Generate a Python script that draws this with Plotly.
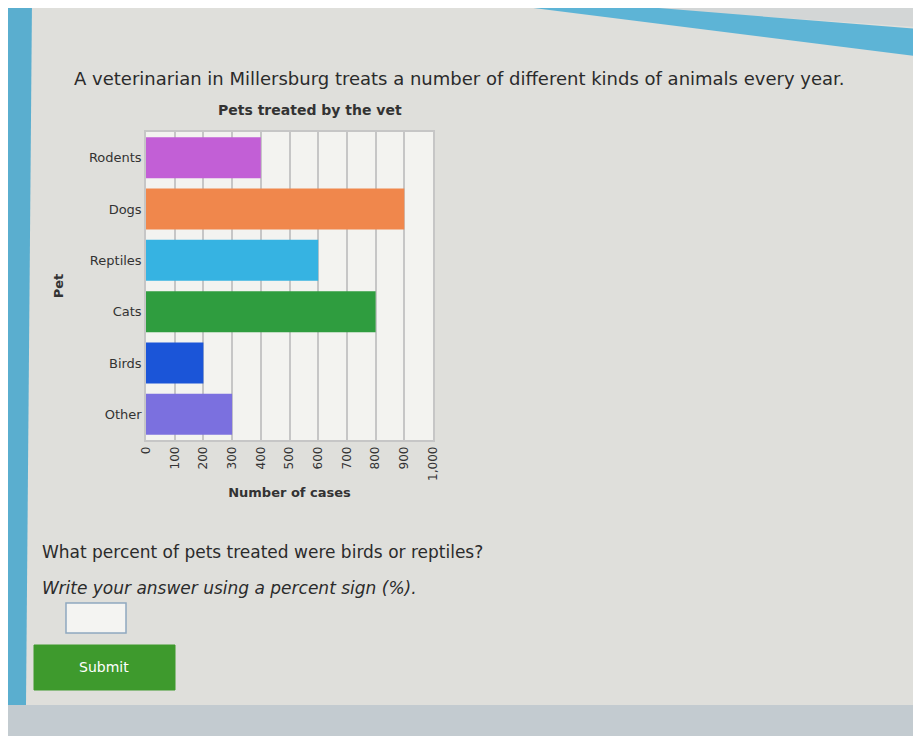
import plotly.graph_objects as go

pets = ["Rodents", "Dogs", "Reptiles", "Cats", "Birds", "Other"]
cases = [400, 900, 600, 800, 200, 300]
colors = ["#c25fd6", "#f0874c", "#36b3e2", "#2f9d3f", "#1b55d8", "#7b70df"]
x_ticks = [0, 100, 200, 300, 400, 500, 600, 700, 800, 900, 1000]

W, H = 921, 736
OFF = 8  # page offset of the figure
L, R, T, B = 146 - OFF, 433 - OFF, 132 - OFF, 440 - OFF

fig = go.Figure(go.Bar(
    x=cases, y=pets, orientation="h",
    marker=dict(color=colors, line=dict(width=0)),
    hoverinfo="x+y",
))

fig.update_layout(
    width=W, height=H,
    margin=dict(l=L, r=W - R, t=T, b=H - B),
    paper_bgcolor="#dfdfdb",
    plot_bgcolor="#f3f3f0",
    bargap=0.2,
    showlegend=False,
    font=dict(family="DejaVu Sans", color="#333333"),
    xaxis=dict(range=[0, 1000], tickvals=x_ticks, tickformat=",", tickangle=-90,
               showgrid=True, gridcolor="#c6c6c6", gridwidth=1.5,
               showline=True, linecolor="#c6c6c6", linewidth=1.5, mirror=True,
               zeroline=False, tickfont=dict(size=12, color="#333333"),
               title=dict(text="<b>Number of cases</b>", font=dict(size=13, color="#333333"), standoff=8)),
    yaxis=dict(autorange="reversed", showgrid=False,
               showline=True, linecolor="#c6c6c6", linewidth=1.5, mirror=True,
               tickfont=dict(size=13, color="#333333"),
               title=dict(text="<b>Pet</b>", font=dict(size=13, color="#333333"), standoff=22)),
)


def px(x):
    return (x - OFF - L) / (R - L)


def py(y):
    return (B - (y - OFF)) / (B - T)


def rect(x0, y0, x1, y1, fill, line=None, lw=0):
    fig.add_shape(type="rect", xref="x domain", yref="y domain",
                  x0=px(x0), x1=px(x1), y0=py(y1), y1=py(y0),
                  fillcolor=fill, line=dict(color=line or fill, width=lw), layer="below")


def poly(pts, fill):
    path = "M " + " L ".join(f"{px(x)} {py(y)}" for x, y in pts) + " Z"
    fig.add_shape(type="path", xref="x domain", yref="y domain", path=path,
                  fillcolor=fill, line_width=0, layer="below")


# left blue strip
poly([(0, 0), (32, 0), (26, 705), (0, 705)], "#5aaecf")
# bottom strip
rect(0, 705, W + OFF, H + OFF, "#c3cbd0")
# top-right: lighter area above the stripe, then the blue stripe
poly([(520, 0), (930, 0), (930, 28)], "#d3d6d6")
poly([(470, 0), (560, 0), (930, 30), (930, 58)], "#5db4d6")

# chart title
fig.add_annotation(xref="x domain", yref="y domain", x=px(310), y=py(110),
                   xanchor="center", yanchor="middle", showarrow=False,
                   text="<b>Pets treated by the vet</b>",
                   font=dict(size=14, color="#333333", family="DejaVu Sans"))

# heading text
fig.add_annotation(xref="x domain", yref="y domain", x=px(72), y=py(78),
                   xanchor="left", yanchor="middle", showarrow=False,
                   text="A veterinarian in Millersburg treats a number of different kinds of animals every year.",
                   font=dict(size=18, color="#2b2b2b", family="DejaVu Sans"))

# question text
fig.add_annotation(xref="x domain", yref="y domain", x=px(40), y=py(552),
                   xanchor="left", yanchor="middle", showarrow=False,
                   text="What percent of pets treated were birds or reptiles?",
                   font=dict(size=17, color="#2b2b2b", family="DejaVu Sans"))
fig.add_annotation(xref="x domain", yref="y domain", x=px(40), y=py(588),
                   xanchor="left", yanchor="middle", showarrow=False,
                   text="<i>Write your answer using a percent sign (%).</i>",
                   font=dict(size=17, color="#2b2b2b", family="DejaVu Sans"))

# input box
rect(66, 603, 126, 633, "#f4f4f2", line="#8fa8c0", lw=1.5)
# submit button
rect(34, 645, 175, 690, "#3e9a2d", line="#3e9a2d", lw=1)
fig.add_annotation(xref="x domain", yref="y domain", x=px(104), y=py(667),
                   xanchor="center", yanchor="middle", showarrow=False,
                   text="Submit", font=dict(size=14, color="#ffffff", family="DejaVu Sans"))

fig.write_html("out.html")
